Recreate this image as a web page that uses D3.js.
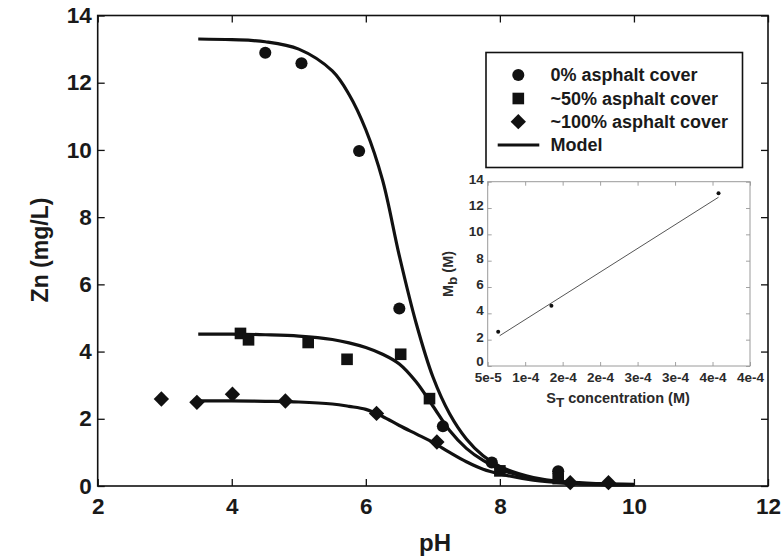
<!DOCTYPE html>
<html><head><meta charset="utf-8">
<script src="https://cdn.jsdelivr.net/npm/d3@7"></script>
<style>body{margin:0;background:#fff}svg{display:block}</style>
</head><body>
<svg id="c" width="784" height="559"></svg>
<script>
// ---- data ----
const xTicks = [2, 4, 6, 8, 10, 12];
const yTicks = [0, 2, 4, 6, 8, 10, 12, 14];

const circlePH = [4.5, 5.04, 5.9, 6.5, 7.15, 7.88, 8.87];
const circleZn = [12.89, 12.58, 9.97, 5.28, 1.78, 0.7, 0.44];

const squarePH = [4.13, 4.25, 5.14, 5.72, 6.52, 6.95, 8.0, 8.87];
const squareZn = [4.54, 4.35, 4.27, 3.77, 3.92, 2.6, 0.45, 0.22];

const diamondPH = [2.95, 3.48, 4.01, 4.8, 6.16, 7.06, 9.05, 9.62];
const diamondZn = [2.59, 2.49, 2.73, 2.53, 2.16, 1.31, 0.1, 0.1];

const modelPH = [3.5, 4.0, 4.5, 5.0, 5.5, 5.75, 6.0, 6.25, 6.5, 6.75, 7.0, 7.25, 7.5, 7.75, 8.0, 8.5, 9.0, 9.5, 10.0];
const modelCircle = [13.3, 13.28, 13.22, 13.0, 12.35, 11.65, 10.6, 9.1, 6.85, 4.85, 3.25, 2.15, 1.4, 0.9, 0.58, 0.25, 0.12, 0.07, 0.05];
const modelSquare = [4.52, 4.52, 4.5, 4.46, 4.36, 4.26, 4.12, 3.92, 3.63, 3.1, 2.38, 1.65, 1.12, 0.76, 0.5, 0.22, 0.1, 0.05, 0.04];
const modelDiamond = [2.53, 2.53, 2.52, 2.5, 2.44, 2.37, 2.28, 2.07, 1.8, 1.55, 1.3, 1.0, 0.72, 0.5, 0.36, 0.17, 0.08, 0.04, 0.03];

const legendLabels = ["0% asphalt cover", "~50% asphalt cover", "~100% asphalt cover", "Model"];

// inset data
const insetXTicks = [5e-5, 1e-4, 1.5e-4, 2e-4, 2.5e-4, 3e-4, 3.5e-4, 4e-4];
const insetXLabels = ["5e-5", "1e-4", "2e-4", "2e-4", "3e-4", "3e-4", "4e-4", "4e-4"];
const insetYTicks = [0, 2, 4, 6, 8, 10, 12, 14];
const insetST = [6.4e-5, 1.35e-4, 3.58e-4];
const insetMb = [2.6, 4.58, 13.12];
const insetFitST = [6.6e-5, 3.58e-4];
const insetFitMb = [2.3, 12.82];

// ---- chart ----
const svg = d3.select("#c");
const FONT = "'Liberation Sans', Arial, sans-serif";
const L = 97.7, R = 768, T = 15.5, B = 486;
const x = d3.scaleLinear().domain([2, 12]).range([L, R]);
const y = d3.scaleLinear().domain([0, 14]).range([B, T]);
const tickLen = 7;

const g = svg.append("g");
const axB = d3.axisBottom(x).tickValues(xTicks).tickSize(-tickLen).tickPadding(12).tickFormat(d3.format("d"));
const axT = d3.axisTop(x).tickValues(xTicks).tickSize(-tickLen).tickFormat("");
const axL = d3.axisLeft(y).tickValues(yTicks).tickSize(-tickLen).tickPadding(6).tickFormat(d3.format("d"));
const axR = d3.axisRight(y).tickValues(yTicks).tickSize(-tickLen).tickFormat("");

function styleAxis(sel){
  sel.select(".domain").remove();
  sel.selectAll("line").attr("stroke", "#111").attr("stroke-width", 1.3);
  sel.selectAll("text").attr("font-family", FONT)
    .attr("font-weight", "bold").attr("font-size", 22.5).attr("fill", "#1a1a1a");
}
g.append("g").attr("transform", `translate(0,${B})`).call(axB).call(styleAxis);
g.append("g").attr("transform", `translate(0,${T})`).call(axT).call(styleAxis);
g.append("g").attr("transform", `translate(${L},0)`).call(axL).call(styleAxis);
g.append("g").attr("transform", `translate(${R},0)`).call(axR).call(styleAxis);
g.append("rect").attr("x", L).attr("y", T).attr("width", R - L).attr("height", B - T)
  .attr("fill", "none").attr("stroke", "#111").attr("stroke-width", 1.6);

// axis titles
svg.append("text").attr("x", 435).attr("y", 551).attr("text-anchor", "middle")
  .attr("font-family", FONT).attr("font-weight", "bold")
  .attr("font-size", 24).attr("fill", "#1a1a1a").text("pH");
svg.append("text").attr("transform", "translate(48,250) rotate(-90)").attr("text-anchor", "middle")
  .attr("font-family", FONT).attr("font-weight", "bold")
  .attr("font-size", 23).attr("fill", "#1a1a1a").text("Zn (mg/L)");

// model lines
const line = d3.line().x(d => x(d[0])).y(d => y(d[1])).curve(d3.curveCatmullRom.alpha(0.5));
[modelCircle, modelSquare, modelDiamond].forEach(vals => {
  svg.append("path").datum(modelPH.map((p, i) => [p, vals[i]]))
    .attr("d", line).attr("fill", "none").attr("stroke", "#111").attr("stroke-width", 3.2);
});

// markers
const circleSym = d3.symbol().type(d3.symbolCircle).size(115);
const squareSym = d3.symbol().type(d3.symbolSquare).size(135);
const diamondSym = d3.symbol().type(d3.symbolDiamond2 || d3.symbolDiamond).size(150);
function drawPts(phs, zns, sym){
  svg.append("g").selectAll("path").data(phs.map((p, i) => [p, zns[i]])).join("path")
    .attr("transform", d => `translate(${x(d[0])},${y(d[1])})`)
    .attr("d", sym).attr("fill", "#111");
}
drawPts(circlePH, circleZn, circleSym);
drawPts(squarePH, squareZn, squareSym);
drawPts(diamondPH, diamondZn, diamondSym);

// legend
const lg = svg.append("g");
lg.append("rect").attr("x", 486).attr("y", 52.5).attr("width", 256.5).attr("height", 115)
  .attr("fill", "#fff").attr("stroke", "#111").attr("stroke-width", 1.6);
const rowY = [75, 98.5, 121.7, 145];
const syms = [circleSym, squareSym, diamondSym];
legendLabels.forEach((t, i) => {
  if (i < 3) {
    lg.append("path").attr("transform", `translate(518.3,${rowY[i]})`).attr("d", syms[i]).attr("fill", "#111");
  } else {
    lg.append("line").attr("x1", 497.7).attr("x2", 539.3).attr("y1", rowY[i]).attr("y2", rowY[i])
      .attr("stroke", "#111").attr("stroke-width", 3.2);
  }
  lg.append("text").attr("x", 550.5).attr("y", rowY[i] + 6.3)
    .attr("font-family", FONT).attr("font-weight", "bold")
    .attr("font-size", 18).attr("fill", "#1a1a1a").text(t);
});

// inset
const iL = 487.7, iR = 750, iT = 181.7, iB = 366;
const ix = d3.scaleLinear().domain([5e-5, 4e-4]).range([iL, iR]);
const iy = d3.scaleLinear().domain([0, 14]).range([iB, iT]);
const ig = svg.append("g");
ig.append("rect").attr("x", iL).attr("y", iT).attr("width", iR - iL).attr("height", iB - iT)
  .attr("fill", "#fff");
const iTick = 4;
function styleInset(sel){
  sel.select(".domain").remove();
  sel.selectAll("line").attr("stroke", "#8a8a8a").attr("stroke-width", 0.8);
  sel.selectAll("text").attr("font-family", FONT)
    .attr("font-weight", "bold").attr("font-size", 13.5).attr("fill", "#2a2a2a");
}
ig.append("g").attr("transform", `translate(0,${iB})`)
  .call(d3.axisBottom(ix).tickValues(insetXTicks).tickSize(-iTick).tickPadding(6).tickFormat((d, i) => insetXLabels[i]))
  .call(styleInset);
ig.append("g").attr("transform", `translate(0,${iT})`)
  .call(d3.axisTop(ix).tickValues(insetXTicks).tickSize(-iTick).tickFormat("")).call(styleInset);
const iyAxis = ig.append("g").attr("transform", `translate(${iL},0)`)
  .call(d3.axisLeft(iy).tickValues(insetYTicks).tickSize(-iTick).tickPadding(4).tickFormat(d3.format("d")))
  .call(styleInset);
iyAxis.selectAll("text").attr("dy", "0.1em");
iyAxis.selectAll("text").filter(d => d === 0).attr("dy", "-0.05em");
ig.append("g").attr("transform", `translate(${iR},0)`)
  .call(d3.axisRight(iy).tickValues(insetYTicks).tickSize(-iTick).tickFormat("")).call(styleInset);
ig.append("rect").attr("x", iL).attr("y", iT).attr("width", iR - iL).attr("height", iB - iT)
  .attr("fill", "none").attr("stroke", "#9a9a9a").attr("stroke-width", 1);

ig.append("path").datum(insetFitST.map((s, i) => [s, insetFitMb[i]]))
  .attr("d", d3.line().x(d => ix(d[0])).y(d => iy(d[1])))
  .attr("fill", "none").attr("stroke", "#555").attr("stroke-width", 1);
ig.append("g").selectAll("circle").data(insetST.map((s, i) => [s, insetMb[i]])).join("circle")
  .attr("cx", d => ix(d[0])).attr("cy", d => iy(d[1])).attr("r", 2).attr("fill", "#111");

const ixl = ig.append("text").attr("x", 618).attr("y", 403).attr("text-anchor", "middle")
  .attr("font-family", FONT).attr("font-weight", "bold")
  .attr("font-size", 14.5).attr("fill", "#2a2a2a");
ixl.append("tspan").text("S");
ixl.append("tspan").attr("dy", 4).attr("font-size", 13.5).text("T");
ixl.append("tspan").attr("dy", -4).text(" concentration (M)");

const iyl = ig.append("text").attr("transform", "translate(453,274) rotate(-90)").attr("text-anchor", "middle")
  .attr("font-family", FONT).attr("font-weight", "bold")
  .attr("font-size", 14.5).attr("fill", "#2a2a2a");
iyl.append("tspan").text("M");
iyl.append("tspan").attr("dy", 4).attr("font-size", 13.5).text("b");
iyl.append("tspan").attr("dy", -4).text(" (M)");
</script>
</body></html>
